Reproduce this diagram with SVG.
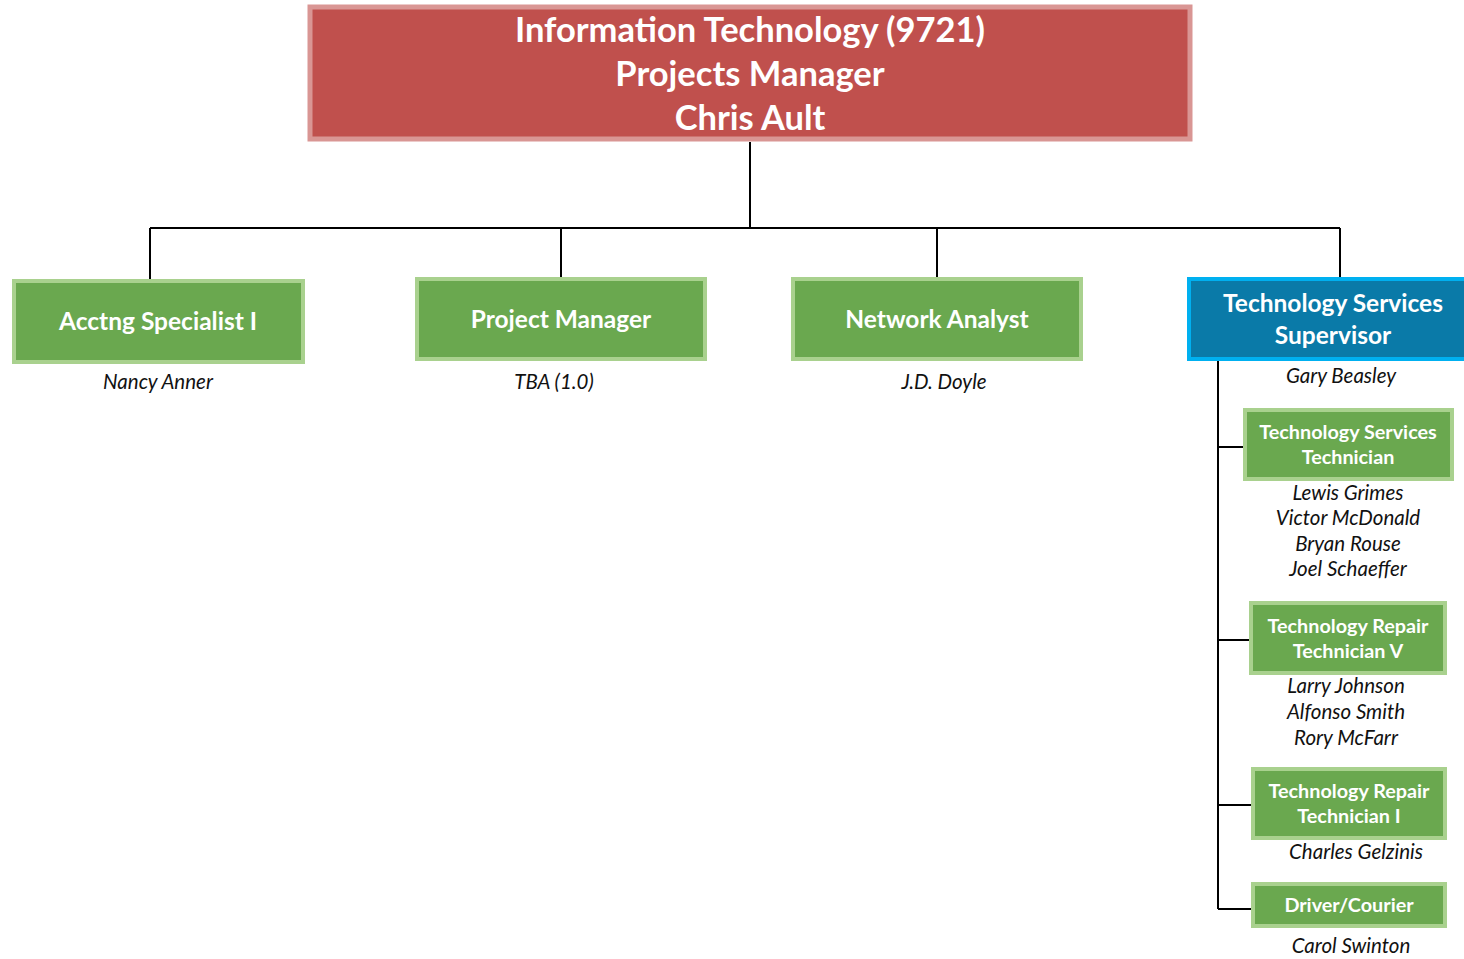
<svg xmlns="http://www.w3.org/2000/svg" width="1464" height="959" viewBox="0 0 1464 959">
<style>
.t{font-family:Lato,"Open Sans","Liberation Sans",sans-serif;font-weight:bold;fill:#fff;text-anchor:middle}
.n{font-family:Lato,"Open Sans","Liberation Sans",sans-serif;font-style:italic;fill:#111;text-anchor:middle;font-size:20.5px}
.g{fill:#6aa84f;stroke:#a9d18e;stroke-width:4}
.c{stroke:#000;stroke-width:2;fill:none}
</style>
<rect width="1464" height="959" fill="#fff"/>
<g id="connectors">
<path class="c" d="M750 142V228M150 228H1340M150 228V280M561 228V278M937 228V278M1340 228V278"/>
<path class="c" d="M1218 361V909M1218 447H1245M1218 640H1251M1218 805H1251M1218 909H1251"/>
</g>
<g id="root">
<rect x="310" y="7" width="880" height="132" fill="#c0504d" stroke="#d99694" stroke-width="5"/>
<text class="t" x="750" y="42" font-size="34.5">Information Technology (9721)</text>
<text class="t" x="750" y="86" font-size="34.5">Projects Manager</text>
<text class="t" x="750" y="130" font-size="34.5">Chris Ault</text>
</g>
<g id="acctng">
<rect class="g" x="14" y="281" width="289" height="81"/>
<text class="t" x="158" y="330" font-size="24.5">Acctng Specialist I</text>
<text class="n" x="158" y="389">Nancy Anner</text>
</g>
<g id="pm">
<rect class="g" x="417" y="279" width="288" height="80"/>
<text class="t" x="561" y="328" font-size="24.5">Project Manager</text>
<text class="n" x="554" y="389">TBA (1.0)</text>
</g>
<g id="na">
<rect class="g" x="793" y="279" width="288" height="80"/>
<text class="t" x="937" y="328" font-size="24.5">Network Analyst</text>
<text class="n" x="944" y="389">J.D. Doyle</text>
</g>
<g id="tss">
<rect x="1189" y="279" width="280" height="80" fill="#0a7aa8" stroke="#00b0f0" stroke-width="4"/>
<text class="t" x="1333" y="312" font-size="24.5">Technology Services</text>
<text class="t" x="1333" y="344" font-size="24.5">Supervisor</text>
<text class="n" x="1341" y="383">Gary Beasley</text>
</g>
<g id="tst">
<rect class="g" x="1245" y="410" width="207" height="69"/>
<text class="t" x="1348" y="439" font-size="19.8">Technology Services</text>
<text class="t" x="1348" y="464" font-size="19.8">Technician</text>
<text class="n" x="1348" y="500">Lewis Grimes</text>
<text class="n" x="1348" y="525">Victor McDonald</text>
<text class="n" x="1348" y="551">Bryan Rouse</text>
<text class="n" x="1348" y="576">Joel Schaeffer</text>
</g>
<g id="trt5">
<rect class="g" x="1251" y="603" width="194" height="70"/>
<text class="t" x="1348" y="633" font-size="19.8">Technology Repair</text>
<text class="t" x="1348" y="658" font-size="19.8">Technician V</text>
<text class="n" x="1346" y="693">Larry Johnson</text>
<text class="n" x="1346" y="719">Alfonso Smith</text>
<text class="n" x="1346" y="745">Rory McFarr</text>
</g>
<g id="trt1">
<rect class="g" x="1253" y="769" width="192" height="69"/>
<text class="t" x="1349" y="798" font-size="19.8">Technology Repair</text>
<text class="t" x="1349" y="823" font-size="19.8">Technician I</text>
<text class="n" x="1356" y="859">Charles Gelzinis</text>
</g>
<g id="driver">
<rect class="g" x="1253" y="884" width="192" height="42"/>
<text class="t" x="1349" y="912" font-size="19.8">Driver/Courier</text>
<text class="n" x="1351" y="953">Carol Swinton</text>
</g>
</svg>
